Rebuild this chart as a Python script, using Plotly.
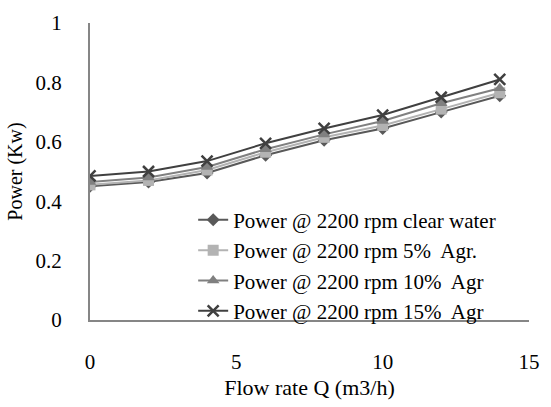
import plotly.graph_objects as go

flow = [0, 2, 4, 6, 8, 10, 12, 14]
clear_water = [0.45, 0.465, 0.495, 0.555, 0.605, 0.645, 0.70, 0.755]
agr5 = [0.455, 0.47, 0.505, 0.565, 0.615, 0.655, 0.71, 0.765]
agr10 = [0.465, 0.48, 0.515, 0.575, 0.625, 0.67, 0.73, 0.78]
agr15 = [0.485, 0.50, 0.535, 0.595, 0.645, 0.69, 0.75, 0.81]

y_tickvals = [0, 0.2, 0.4, 0.6, 0.8, 1]
y_ticklabels = ["0", "0.2", "0.4", "0.6", "0.8", "1"]
x_tickvals = [0, 5, 10, 15]

names = ["Power @ 2200 rpm clear water", "Power @ 2200 rpm 5%  Agr.",
         "Power @ 2200 rpm 10%  Agr", "Power @ 2200 rpm 15%  Agr"]
series = [clear_water, agr5, agr10, agr15]
colors = ["#595959", "#b3b3b3", "#808080", "#404040"]
symbols = ["diamond", "square", "triangle-up", "x-thin"]
sizes = [10, 11, 11, 11]

FONT = "Liberation Serif, Times New Roman, serif"

fig = go.Figure()
for n, s, c, sym, sz in zip(names, series, colors, symbols, sizes):
    marker = dict(symbol=sym, size=sz, color=c)
    if sym == "x-thin":
        marker["line"] = dict(width=2.5, color=c)
    fig.add_trace(go.Scatter(x=flow, y=s, mode="lines+markers", name=n,
                             line=dict(color=c, width=2), marker=marker))

fig.update_layout(
    width=551, height=407,
    margin=dict(l=90, r=11, t=18, b=85),
    paper_bgcolor="white", plot_bgcolor="white",
    font=dict(family=FONT, size=21, color="#000000"),
    showlegend=True,
    legend=dict(x=0.235, y=0.405, xanchor="left", yanchor="top",
                bgcolor="rgba(0,0,0,0)", font=dict(family=FONT, size=21),
                tracegroupgap=0),
    xaxis=dict(range=[0, 15], tickvals=x_tickvals, showgrid=False,
               zeroline=False, showline=True, linecolor="#868686", linewidth=2,
               ticks="outside", ticklen=22, tickcolor="rgba(0,0,0,0)",
               tickfont=dict(family=FONT, size=21),
               title=dict(text="Flow rate Q (m3/h)", standoff=6,
                          font=dict(family=FONT, size=22))),
    yaxis=dict(range=[0, 1], tickvals=y_tickvals, ticktext=y_ticklabels,
               showgrid=False, zeroline=False, showline=True,
               linecolor="#868686", linewidth=2,
               ticks="outside", ticklen=22, tickcolor="rgba(0,0,0,0)",
               tickfont=dict(family=FONT, size=21),
               title=dict(text="Power (Kw)", standoff=8,
                          font=dict(family=FONT, size=20))),
)

fig.write_html("out.html")
